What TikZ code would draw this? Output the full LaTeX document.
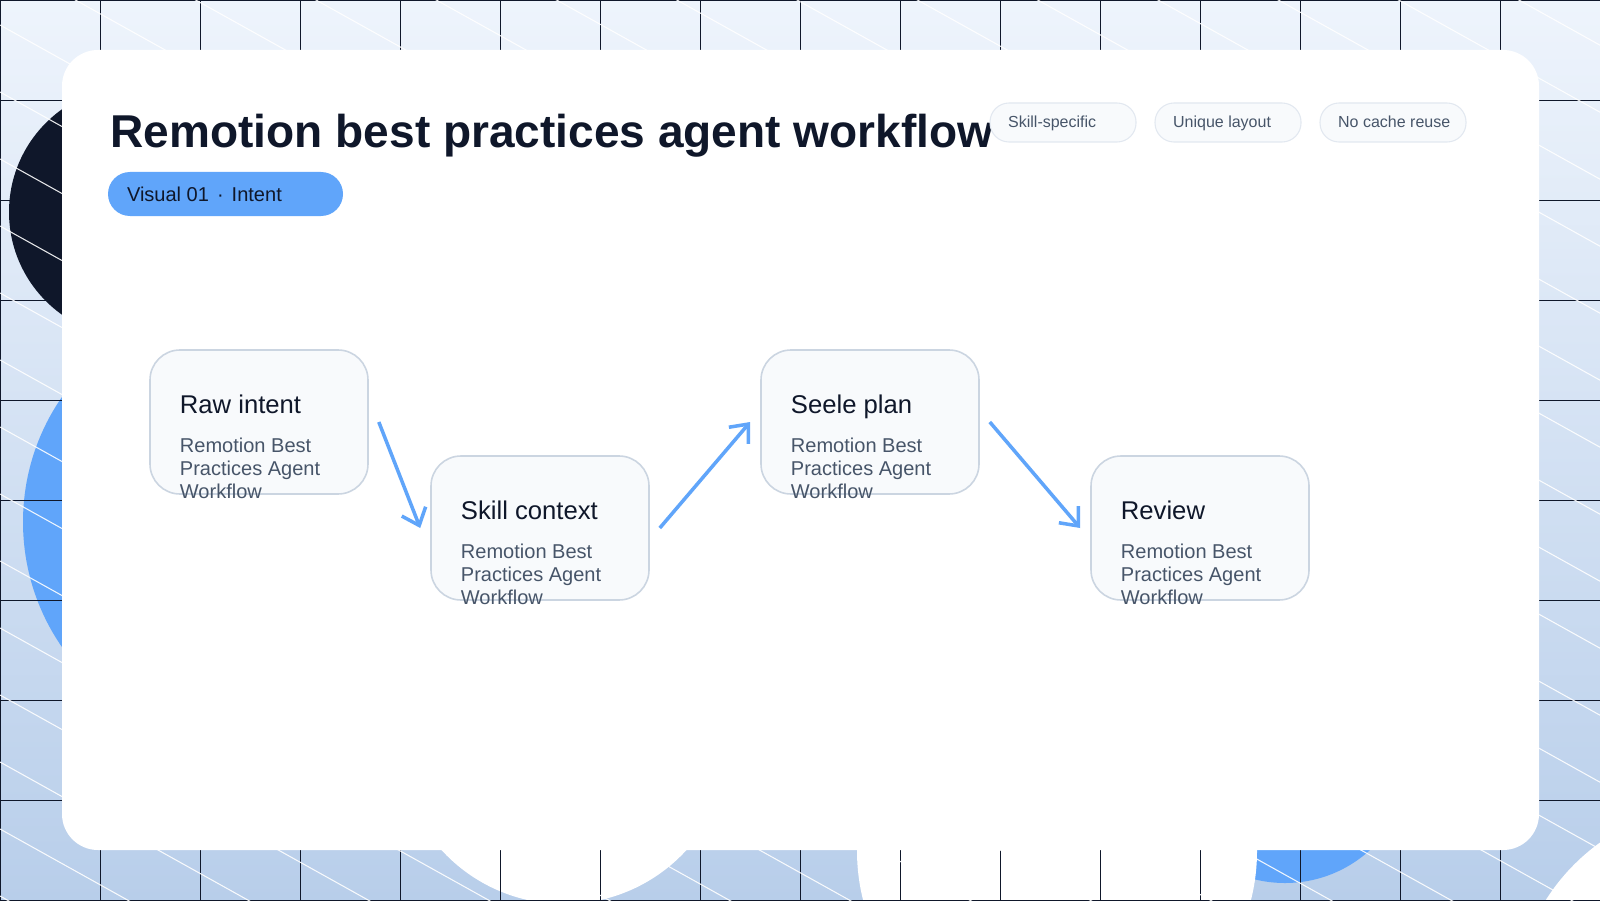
\documentclass[tikz,border=0pt]{standalone}
\usepackage{fontspec}
\setmainfont{Liberation Sans}
\usepackage{tikz}
\usetikzlibrary{calc}
\usetikzlibrary{arrows.meta,positioning,backgrounds}

\definecolor{ink}{HTML}{0F172A}
\definecolor{slate}{HTML}{475569}
\definecolor{skyblue}{HTML}{60A5FA}
\definecolor{stepfill}{HTML}{F8FAFC}
\definecolor{stepline}{HTML}{CBD5E1}
\definecolor{chipline}{HTML}{E2E8F0}
\definecolor{bgtop}{HTML}{EEF4FC}
\definecolor{bgbottom}{HTML}{B8CEEA}

\tikzset{
  stepbox/.style={rectangle,rounded corners=0.3cm,minimum width=2.18cm,minimum height=1.44cm,fill=stepfill,draw=stepline,line width=0.45pt},
  steptitle/.style={anchor=base west,inner sep=0pt,text=ink,font=\fontsize{7.3pt}{8.5pt}\selectfont},
  steptext/.style={anchor=base west,inner sep=0pt,align=left,text=slate,font=\fontsize{5.7pt}{6.54pt}\selectfont},
  chipbox/.style={rectangle,rounded corners=0.19cm,minimum width=1.46cm,minimum height=0.39cm,fill=stepfill,draw=chipline,line width=0.3pt},
  chiptext/.style={anchor=base west,inner sep=0pt,text=slate,font=\fontsize{4.55pt}{5.5pt}\selectfont},
  flow/.style={line width=1pt,skyblue,arrows={-Straight Barb[length=4.3pt,width=7.3pt]}},
}

\begin{document}
\begin{tikzpicture}

\coordinate (ORIGIN) at (0,0);
\useasboundingbox (ORIGIN) rectangle ++(16,9);

%%%%%%%%%%%%%%%%%%%
% backdrop
\begin{scope}
\clip (ORIGIN) rectangle ++(16,9);
\shade[top color=bgtop,bottom color=bgbottom] (ORIGIN) rectangle ++(16,9);
\fill[ink] ($(ORIGIN)+(1.35,6.88)$) circle (1.26);
\fill[skyblue] ($(ORIGIN)+(2.43,3.78)$) circle (2.2);
\fill[skyblue] ($(ORIGIN)+(12.85,1.43)$) circle (1.26);
\fill[white] ($(ORIGIN)+(5.64,1.62)$) circle (1.66);
\fill[white] ($(ORIGIN)+(10.57,0.49)$) circle (2.0);
\fill[white] ($(ORIGIN)+(17.2,-1.1)$) circle (2.06);
% grid
\foreach \gx in {0,...,16}
  \draw[ink,line width=0.25pt] ($(ORIGIN)+(\gx,0)$) -- ++(0,9);
\foreach \gy in {0,...,9}
  \draw[ink,line width=0.25pt] ($(ORIGIN)+(0,\gy)$) -- ++(16,0);
% hatching
\foreach \k in {-14,...,13}
  \draw[white,line width=0.3pt,opacity=0.9] ($(ORIGIN)+(0,8.75-0.67*\k)$) -- ++(16,-8.912);
\end{scope}

%%%%%%%%%%%%%%%%%%%
% card and header
\fill[white,rounded corners=0.36cm] ($(ORIGIN)+(0.62,0.50)$) rectangle ($(ORIGIN)+(15.39,8.50)$);

\node[anchor=base west,inner sep=0pt,text=ink,font=\fontsize{13.1pt}{16pt}\selectfont\bfseries] at ($(ORIGIN)+(1.10,7.53)$) (TITLE) {Remotion best practices agent workflow};

\node[rectangle,rounded corners=0.22cm,minimum width=2.35cm,minimum height=0.44cm,fill=skyblue] at ($(ORIGIN)+(2.255,7.06)$) (PILL) {};
\node[anchor=base west,inner sep=0pt,text=ink,font=\fontsize{5.7pt}{7pt}\selectfont] at ($(PILL.west)+(0.19,-0.07)$) (PILLTEXT) {Visual 01\kern0.4em·\kern0.4em Intent};

\node[chipbox] at ($(ORIGIN)+(10.63,7.775)$) (CHIP1) {};
\node[chiptext] at ($(CHIP1.west)+(0.18,-0.055)$) {Skill-specific};
\node[chipbox] at ($(ORIGIN)+(12.28,7.775)$) (CHIP2) {};
\node[chiptext] at ($(CHIP2.west)+(0.18,-0.055)$) {Unique layout};
\node[chipbox] at ($(ORIGIN)+(13.93,7.775)$) (CHIP3) {};
\node[chiptext] at ($(CHIP3.west)+(0.18,-0.055)$) {No cache reuse};

%%%%%%%%%%%%%%%%%%%
% workflow steps
\node[stepbox] at ($(ORIGIN)+(2.59,4.78)$) (RAWINTENT) {};
\node[steptitle] at ($(RAWINTENT.north west)+(0.30,-0.64)$) {Raw intent};
\node[steptext] at ($(RAWINTENT.north west)+(0.30,-1.49)$) {Remotion Best\\Practices Agent\\Workflow};

\node[stepbox] at ($(ORIGIN)+(5.40,3.72)$) (SKILLCTX) {};
\node[steptitle] at ($(SKILLCTX.north west)+(0.30,-0.64)$) {Skill context};
\node[steptext] at ($(SKILLCTX.north west)+(0.30,-1.49)$) {Remotion Best\\Practices Agent\\Workflow};

\node[stepbox] at ($(ORIGIN)+(8.70,4.78)$) (SEELEPLAN) {};
\node[steptitle] at ($(SEELEPLAN.north west)+(0.30,-0.64)$) {Seele plan};
\node[steptext] at ($(SEELEPLAN.north west)+(0.30,-1.49)$) {Remotion Best\\Practices Agent\\Workflow};

\node[stepbox] at ($(ORIGIN)+(12.00,3.72)$) (REVIEW) {};
\node[steptitle] at ($(REVIEW.north west)+(0.30,-0.64)$) {Review};
\node[steptext] at ($(REVIEW.north west)+(0.30,-1.49)$) {Remotion Best\\Practices Agent\\Workflow};

% arrows
\draw[flow] ($(RAWINTENT.east)+(0.1,0)$) -- ($(SKILLCTX.west)+(-0.1,0)$);
\draw[flow] ($(SKILLCTX.east)+(0.1,0)$) -- ($(SEELEPLAN.west)+(-0.1,0)$);
\draw[flow] ($(SEELEPLAN.east)+(0.1,0)$) -- ($(REVIEW.west)+(-0.1,0)$);

\end{tikzpicture}
\end{document}
